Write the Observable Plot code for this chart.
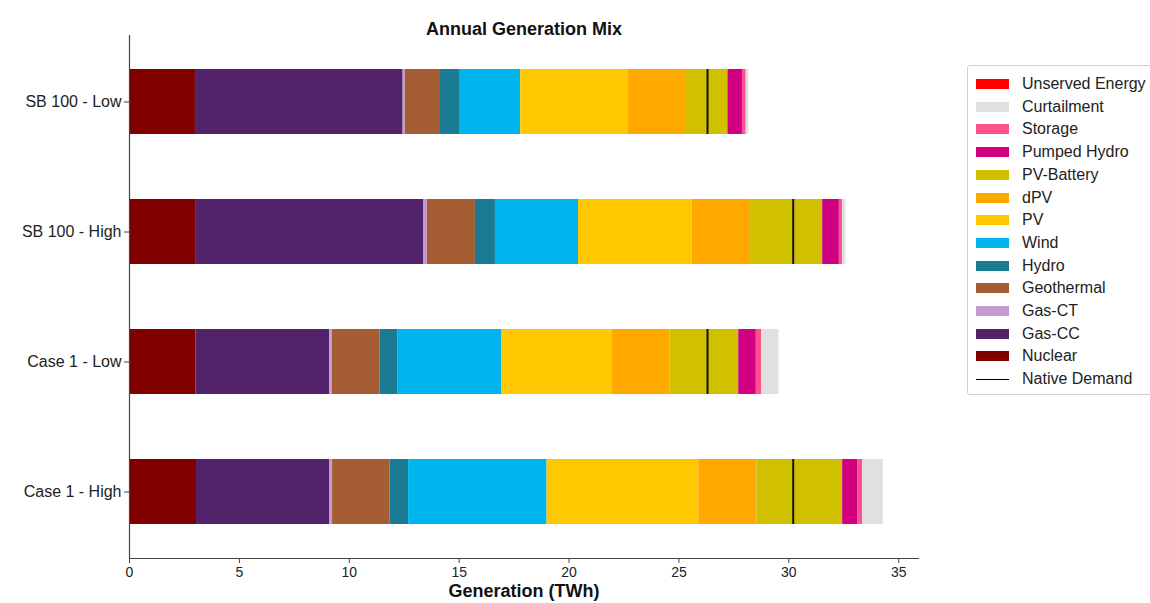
<!DOCTYPE html>
<html>
<head>
<meta charset="utf-8">
<script src="https://cdn.jsdelivr.net/npm/d3@7"></script>
<script src="https://cdn.jsdelivr.net/npm/@observablehq/plot@0.6"></script>
<style>
  html, body { margin: 0; padding: 0; background: #fff; }
  #wrap { position: relative; width: 1150px; height: 603px; overflow: hidden; font-family: "Liberation Sans", Arial, sans-serif; }
  #legend { position: absolute; left: 967px; top: 65px; width: 195px; height: 330px; border: 1px solid #d0d0d0; border-radius: 3px; box-sizing: border-box; background: #fff; }
  .li { position: absolute; left: 8px; height: 20px; display: flex; align-items: center; font-size: 16px; color: #222; white-space: nowrap; }
  .sw { width: 33px; height: 10px; margin-right: 13px; }
  .ln { width: 33px; height: 0; border-top: 1.5px solid #000; margin-right: 13px; }
</style>
</head>
<body>
<div id="wrap"><div id="legend"></div></div>
<script>
const scenarios = ["SB 100 - Low", "SB 100 - High", "Case 1 - Low", "Case 1 - High"];
const techs = ["Nuclear", "Gas-CC", "Gas-CT", "Geothermal", "Hydro", "Wind", "PV", "dPV", "PV-Battery", "Pumped Hydro", "Storage", "Curtailment", "Unserved Energy"];
const colors = ["#800000", "#52236B", "#C39BD3", "#A55E34", "#1B7B93", "#00B5EE", "#FFC800", "#FFA800", "#D0C000", "#D10080", "#FF5090", "#E0E0E0", "#FF0000"];
// generation (TWh) per technology, one array per scenario, in techs order
const sb100Low  = [3.00, 9.45, 0.10, 1.60, 0.90, 2.75, 4.90, 2.60, 1.93, 0.66, 0.17, 0.12, 0];
const sb100High = [3.04, 10.36, 0.15, 2.19, 0.91, 3.78, 5.17, 2.66, 3.28, 0.76, 0.15, 0.15, 0];
const case1Low  = [3.02, 6.09, 0.12, 2.17, 0.80, 4.75, 5.02, 2.62, 3.13, 0.80, 0.24, 0.79, 0];
const case1High = [3.05, 6.05, 0.14, 2.61, 0.85, 6.30, 6.90, 2.65, 3.90, 0.70, 0.20, 0.95, 0];
const nativeDemand = [26.3, 30.2, 26.3, 30.2];
const xTicks = [0, 5, 10, 15, 20, 25, 30, 35];
const legendOrder = ["Unserved Energy", "Curtailment", "Storage", "Pumped Hydro", "PV-Battery", "dPV", "PV", "Wind", "Hydro", "Geothermal", "Gas-CT", "Gas-CC", "Nuclear"];

const series = [sb100Low, sb100High, case1Low, case1High];
const rows = [];
scenarios.forEach((s, i) => techs.forEach((t, j) => rows.push({scenario: s, tech: t, value: series[i][j]})));
const demand = scenarios.map((s, i) => ({scenario: s, value: nativeDemand[i]}));

const font = "Liberation Sans, Arial, sans-serif";
const chart = Plot.plot({
  width: 1150,
  height: 603,
  marginLeft: 129,
  marginRight: 232,
  marginTop: 35,
  marginBottom: 45,
  style: {fontFamily: font, fontSize: "14px", color: "#222", background: "#fff"},
  x: {domain: [0, 35.9]},
  y: {domain: scenarios, paddingInner: 0.5, paddingOuter: 0.25},
  color: {domain: techs, range: colors},
  marks: [
    Plot.barX(rows, Plot.stackX({x: "value", y: "scenario", fill: "tech", order: techs, inset: 0})),
    Plot.tickX(demand, {x: "value", y: "scenario", stroke: "#111", strokeWidth: 2}),
    Plot.ruleX([0], {stroke: "#444", strokeWidth: 1.2}),
    Plot.frame({anchor: "bottom", stroke: "#444", strokeWidth: 1.2}),
    Plot.axisX({ticks: xTicks, tickSize: 5, tickPadding: 4, label: null, fontSize: 14, stroke: "#444"}),
    Plot.axisY({tickSize: 5, tickPadding: 3, label: null, fontSize: 16, stroke: "#444"}),
    Plot.text(["Annual Generation Mix"], {frameAnchor: "top", dy: -13, fontWeight: "bold", fontSize: 18, fill: "#111"}),
    Plot.text(["Generation (TWh)"], {frameAnchor: "bottom", dy: 38, fontWeight: "bold", fontSize: 18, fill: "#111"})
  ]
});
document.getElementById("wrap").prepend(chart);

const legend = document.getElementById("legend");
legendOrder.forEach((t, i) => {
  const d = document.createElement("div");
  d.className = "li";
  d.style.top = (8 + i * 22.7) + "px";
  d.innerHTML = `<span class="sw" style="background:${colors[techs.indexOf(t)]}"></span>${t}`;
  legend.appendChild(d);
});
const dl = document.createElement("div");
dl.className = "li";
dl.style.top = (8 + legendOrder.length * 22.7) + "px";
dl.innerHTML = `<span class="ln"></span>Native Demand`;
legend.appendChild(dl);
</script>
</body>
</html>
